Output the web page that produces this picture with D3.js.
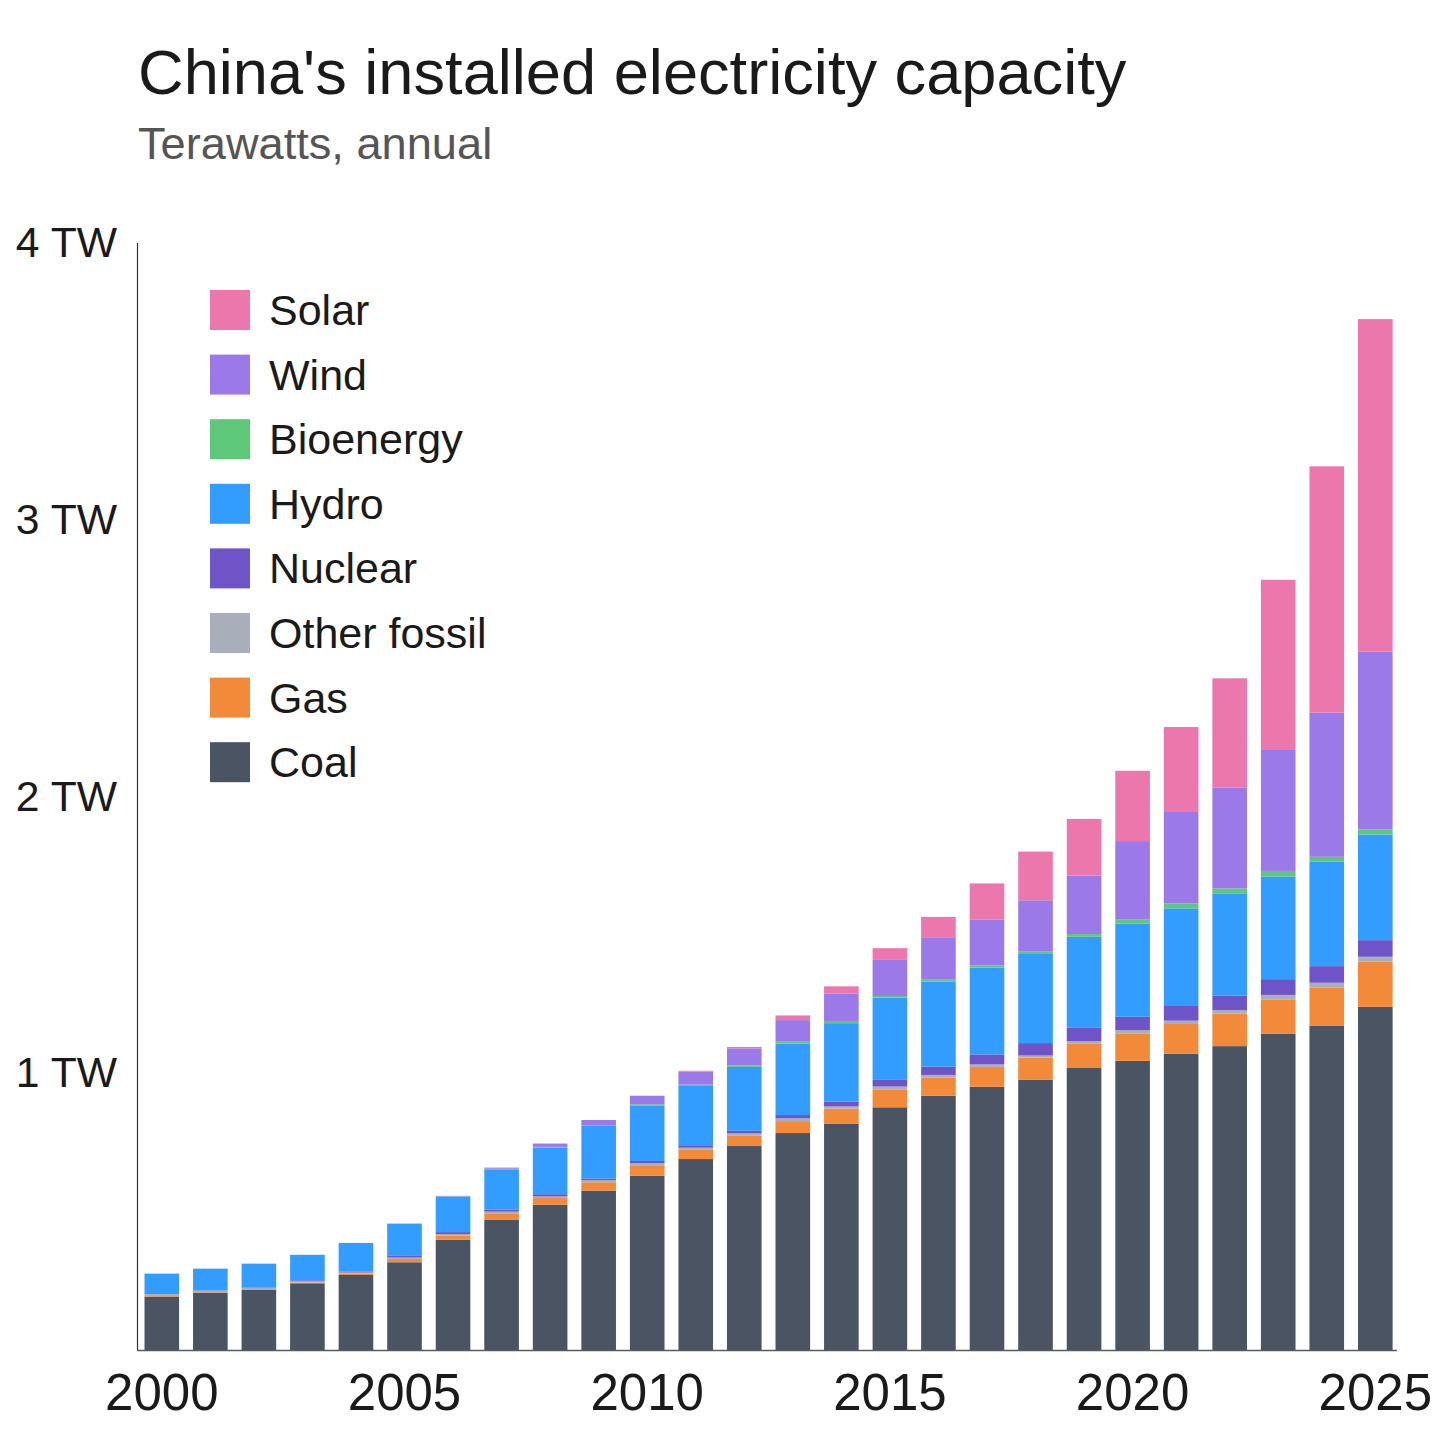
<!DOCTYPE html>
<html>
<head>
<meta charset="utf-8">
<script src="https://cdn.jsdelivr.net/npm/d3@7/dist/d3.min.js"></script>
<style>
  html, body { margin: 0; padding: 0; background: #ffffff; }
  svg { display: block; font-family: "Liberation Sans", Arial, Helvetica, sans-serif; }
</style>
</head>
<body>
<svg id="chart" width="1456" height="1456"></svg>
<script>
// ---- Data (terawatts) ----
const years = d3.range(2000, 2026);
const seriesNames = ["Coal", "Gas", "Other fossil", "Nuclear", "Hydro", "Bioenergy", "Wind", "Solar"];
const coal    = [0.193,0.207,0.218,0.241,0.271,0.317,0.399,0.470,0.525,0.576,0.630,0.690,0.737,0.784,0.817,0.877,0.919,0.951,0.976,1.019,1.045,1.071,1.098,1.143,1.171,1.240];
const gas     = [0.002,0.002,0.002,0.003,0.005,0.012,0.015,0.024,0.024,0.030,0.035,0.035,0.037,0.043,0.055,0.065,0.065,0.072,0.081,0.089,0.099,0.107,0.118,0.124,0.138,0.163];
const otherFossil = [0.007,0.005,0.005,0.005,0.004,0.005,0.005,0.006,0.006,0.008,0.010,0.006,0.009,0.010,0.008,0.010,0.010,0.009,0.007,0.008,0.012,0.012,0.012,0.016,0.018,0.018];
const nuclear = [0.000,0.001,0.002,0.003,0.003,0.006,0.007,0.007,0.008,0.006,0.008,0.009,0.009,0.012,0.017,0.024,0.030,0.036,0.045,0.048,0.048,0.053,0.052,0.057,0.060,0.060];
const hydro   = [0.074,0.079,0.085,0.092,0.104,0.116,0.128,0.146,0.169,0.190,0.201,0.214,0.231,0.258,0.284,0.297,0.307,0.314,0.322,0.329,0.337,0.353,0.370,0.371,0.377,0.382];
const bio     = [0.000,0.000,0.000,0.000,0.000,0.000,0.001,0.002,0.002,0.003,0.004,0.005,0.006,0.007,0.008,0.006,0.007,0.008,0.010,0.010,0.014,0.018,0.018,0.020,0.018,0.018];
const wind    = [0.000,0.000,0.000,0.000,0.000,0.001,0.002,0.004,0.012,0.018,0.030,0.047,0.061,0.078,0.099,0.133,0.151,0.166,0.184,0.211,0.284,0.330,0.365,0.440,0.521,0.642];
const solar   = [0.000,0.000,0.000,0.000,0.000,0.000,0.000,0.000,0.000,0.000,0.001,0.003,0.005,0.017,0.026,0.040,0.076,0.130,0.176,0.205,0.254,0.307,0.394,0.612,0.890,1.202];
const yTicks = [1, 2, 3, 4];
const xTickYears = [2000, 2005, 2010, 2015, 2020, 2025];
const legendOrder = ["Solar", "Wind", "Bioenergy", "Hydro", "Nuclear", "Other fossil", "Gas", "Coal"];
const colors = {
  "Coal": "#4a5463",
  "Gas": "#f28a3a",
  "Other fossil": "#a9aebb",
  "Nuclear": "#6e54c6",
  "Hydro": "#339cff",
  "Bioenergy": "#5dc878",
  "Wind": "#9b79e8",
  "Solar": "#ec77ad"
};
const seriesValues = {
  "Coal": coal, "Gas": gas, "Other fossil": otherFossil, "Nuclear": nuclear,
  "Hydro": hydro, "Bioenergy": bio, "Wind": wind, "Solar": solar
};

// table for stacking
const table = years.map((yr, i) => {
  const row = { year: yr };
  seriesNames.forEach(s => row[s] = seriesValues[s][i]);
  return row;
});

const svg = d3.select("#chart");

// ---- Scales ----
const x = d3.scaleBand()
  .domain(years)
  .range([137, 1400.1])
  .paddingInner(0.287)
  .paddingOuter(0.1545);

const y = d3.scaleLinear()
  .domain([0, 4])
  .range([1350, 243]);

// ---- Title ----
svg.append("text")
  .attr("x", 138).attr("y", 94)
  .attr("font-size", 63.2)
  .attr("fill", "#1a1a1a")
  .text("China's installed electricity capacity");

svg.append("text")
  .attr("x", 138).attr("y", 159)
  .attr("font-size", 45.2)
  .attr("fill", "#555555")
  .text("Terawatts, annual");

// ---- Bars ----
const stack = d3.stack().keys(seriesNames);
const stacked = stack(table);

svg.append("g")
  .selectAll("g")
  .data(stacked)
  .join("g")
    .attr("fill", d => colors[d.key])
  .selectAll("rect")
  .data(d => d)
  .join("rect")
    .attr("x", d => x(d.data.year))
    .attr("width", x.bandwidth())
    .attr("y", d => y(d[1]))
    .attr("height", d => Math.max(0, y(d[0]) - y(d[1])));

// ---- Y axis ----
const yAxis = d3.axisLeft(y)
  .tickValues(yTicks)
  .tickSize(0)
  .tickPadding(20)
  .tickFormat(d => d + " TW");

const gy = svg.append("g")
  .attr("transform", "translate(137,0)")
  .call(yAxis);
gy.select(".domain").remove();
gy.selectAll("text")
  .attr("font-size", 42.7)
  .attr("fill", "#1a1a1a")
  .attr("font-family", "Liberation Sans, Arial, sans-serif");

svg.append("line")
  .attr("x1", 137.5).attr("x2", 137.5)
  .attr("y1", y(4)).attr("y2", y(0))
  .attr("stroke", "#333333")
  .attr("stroke-width", 1.2);

// ---- X axis ----
const xAxis = d3.axisBottom(x)
  .tickValues(xTickYears)
  .tickSize(0)
  .tickPadding(0);

const gx = svg.append("g")
  .attr("transform", "translate(0,1350)")
  .call(xAxis);
gx.select(".domain").remove();
gx.selectAll("text")
  .attr("dy", null)
  .attr("y", 60)
  .attr("font-size", 51)
  .attr("fill", "#1a1a1a")
  .attr("font-family", "Liberation Sans, Arial, sans-serif");

svg.append("line")
  .attr("x1", 137).attr("x2", 1397)
  .attr("y1", 1350.5).attr("y2", 1350.5)
  .attr("stroke", "#555b66")
  .attr("stroke-width", 1.6);

// ---- Legend ----
const legend = svg.append("g").attr("transform", "translate(210,290)");
const li = legend.selectAll("g")
  .data(legendOrder)
  .join("g")
    .attr("transform", (d, i) => `translate(0,${i * 64.6})`);
li.append("rect")
  .attr("width", 40).attr("height", 40)
  .attr("fill", d => colors[d]);
li.append("text")
  .attr("x", 59).attr("y", 35)
  .attr("font-size", 43)
  .attr("fill", "#1a1a1a")
  .text(d => d);
</script>
</body>
</html>
